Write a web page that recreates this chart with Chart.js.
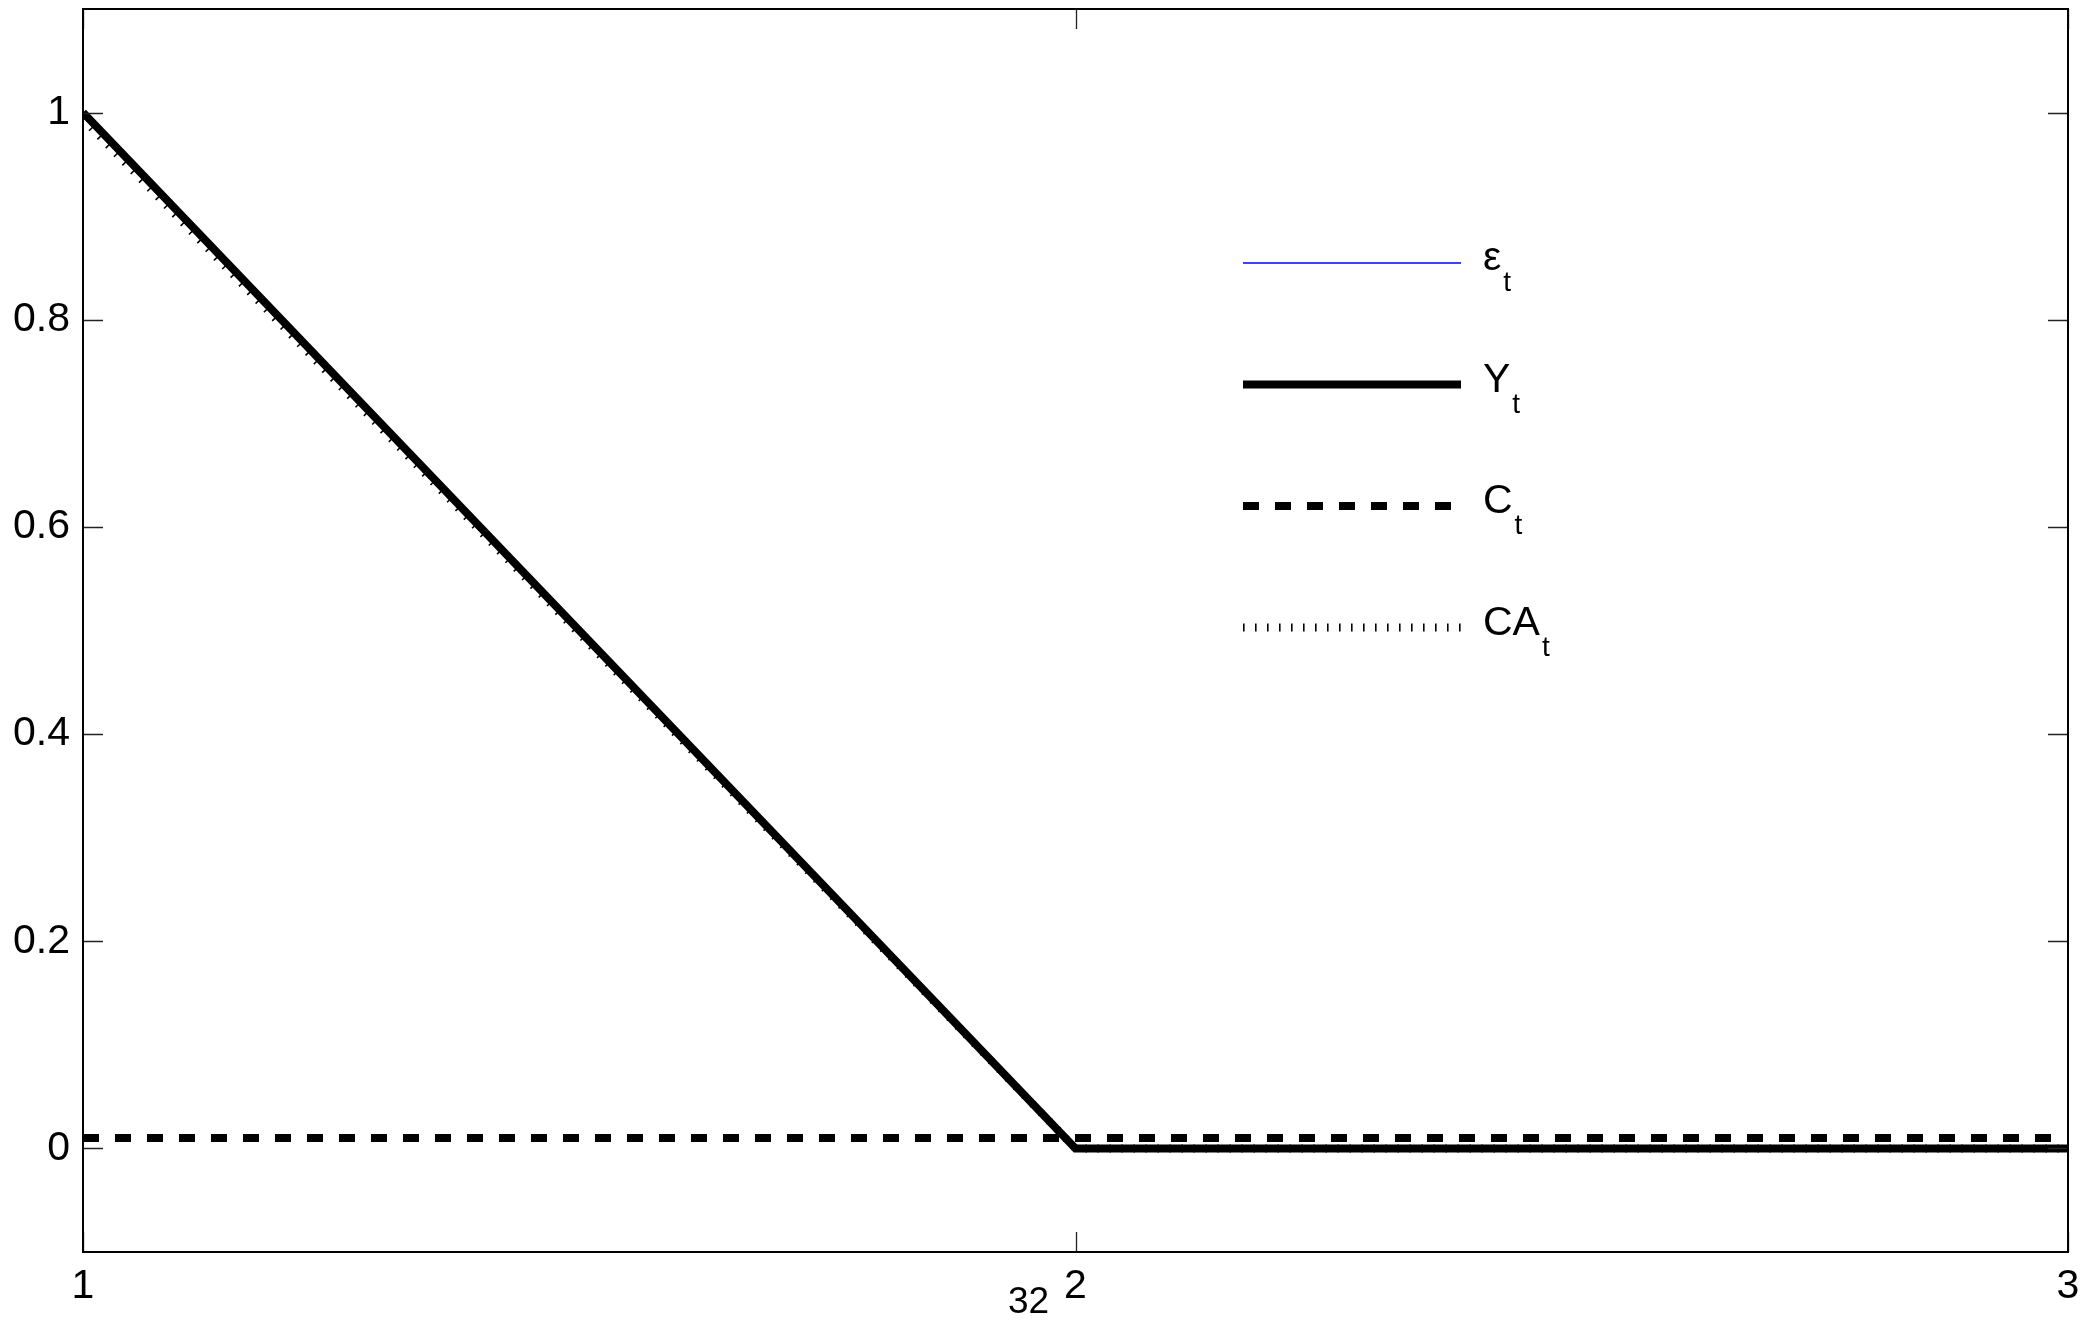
<!DOCTYPE html>
<html>
<head>
<meta charset="utf-8">
<script src="https://cdn.jsdelivr.net/npm/chart.js@4.4.1/dist/chart.umd.min.js"></script>
<style>
  html, body { margin: 0; padding: 0; background: #fff; }
  canvas { display: block; }
</style>
</head>
<body>
<canvas id="c" width="2092" height="1321"></canvas>
<script>
// Impulse responses over the three periods
const periods = [1, 2, 3];
const epsilonT = [1, 0, 0];
const outputY = [1, 0, 0];
const consumptionC = [0.01, 0.01, 0.01];
const currentAccountCA = [0.994, 0, 0];

// Legend names (each carries a subscript t)
const seriesNames = ['ε', 'Y', 'C', 'CA'];
const seriesSub = 't';

// Axis ticks
const xTicks = [1, 2, 3];
const yTicks = [0, 0.2, 0.4, 0.6, 0.8, 1];
const xNote = '32';

const FONT = '"Liberation Sans", Arial, Helvetica, sans-serif';
Chart.defaults.font.family = FONT;
Chart.defaults.color = '#000';

const pts = vals => periods.map((t, i) => ({ x: t, y: vals[i] }));

// Box frame, inward tick marks on all four sides, the extra axis note and the legend
const framePlugin = {
  id: 'frameTicks',
  afterDraw(chart) {
    const { ctx, chartArea: a, scales } = chart;
    const xs = scales.x, ys = scales.y;
    ctx.save();
    // inward ticks
    ctx.strokeStyle = '#222';
    ctx.lineWidth = 1.3;
    const tl = 20;
    yTicks.forEach(v => {
      const y = Math.round(ys.getPixelForValue(v)) + 0.5;
      ctx.beginPath();
      ctx.moveTo(a.left, y); ctx.lineTo(a.left + tl, y);
      ctx.moveTo(a.right, y); ctx.lineTo(a.right - tl, y);
      ctx.stroke();
    });
    xTicks.forEach(v => {
      const x = Math.round(xs.getPixelForValue(v)) + 0.5;
      ctx.beginPath();
      ctx.moveTo(x, a.bottom); ctx.lineTo(x, a.bottom - tl);
      ctx.moveTo(x, a.top); ctx.lineTo(x, a.top + tl);
      ctx.stroke();
    });
    // frame
    ctx.strokeStyle = '#000';
    ctx.lineWidth = 2;
    ctx.strokeRect(a.left, a.top, a.right - a.left, a.bottom - a.top);

    // note beside the middle x tick
    ctx.fillStyle = '#000';
    ctx.font = '37px ' + FONT;
    ctx.textAlign = 'center';
    ctx.textBaseline = 'alphabetic';
    ctx.fillText(xNote, xs.getPixelForValue(2) - 47, a.bottom + 61);

    // legend
    const lx1 = 1243, lx2 = 1461, ly0 = 263, step = 121.5;
    chart.data.datasets.forEach((ds, i) => {
      const y = ly0 + i * step;
      ctx.save();
      ctx.strokeStyle = ds.borderColor;
      ctx.lineWidth = ds.borderWidth;
      ctx.setLineDash(ds.borderDash || []);
      ctx.lineCap = 'butt';
      ctx.beginPath();
      ctx.moveTo(lx1, y); ctx.lineTo(lx2, y);
      ctx.stroke();
      ctx.restore();

      ctx.fillStyle = '#000';
      ctx.textAlign = 'left';
      ctx.textBaseline = 'alphabetic';
      ctx.font = '41px ' + FONT;
      const name = seriesNames[i];
      ctx.fillText(name, 1483, y + 7);
      const w = ctx.measureText(name).width;
      ctx.font = '28px ' + FONT;
      ctx.fillText(seriesSub, 1483 + w + 2, y + 28);
    });
    ctx.restore();
  }
};

new Chart(document.getElementById('c'), {
  type: 'line',
  data: {
    datasets: [
      { label: 'ε_t', data: pts(epsilonT), borderColor: '#0000ff', borderWidth: 1.3, order: 3 },
      { label: 'Y_t', data: pts(outputY), borderColor: '#000', borderWidth: 8, order: 0 },
      { label: 'C_t', data: pts(consumptionC), borderColor: '#000', borderWidth: 8, borderDash: [16, 16], order: 1 },
      { label: 'CA_t', data: pts(currentAccountCA), borderColor: '#000', borderWidth: 8, borderDash: [1.6, 10.4], order: 2 }
    ].map(d => Object.assign({ pointRadius: 0, tension: 0, fill: false, borderCapStyle: 'butt', borderJoinStyle: 'miter' }, d))
  },
  options: {
    responsive: false,
    devicePixelRatio: 1,
    animation: false,
    events: [],
    layout: { padding: { top: 9, right: 24, left: 0, bottom: 0 } },
    plugins: { legend: { display: false }, tooltip: { enabled: false }, title: { display: false } },
    scales: {
      x: {
        type: 'linear', min: 1, max: 3,
        grid: { display: false, drawTicks: false },
        border: { display: false },
        afterBuildTicks: s => { s.ticks = xTicks.map(v => ({ value: v })); },
        afterFit: s => { s.height = 69; s.paddingLeft = 0; s.paddingRight = 0; },
        ticks: { font: { size: 41 }, padding: 10, maxRotation: 0, autoSkip: false, callback: v => String(v) }
      },
      y: {
        type: 'linear', min: -0.1, max: 1.1,
        grid: { display: false, drawTicks: false },
        border: { display: false },
        afterBuildTicks: s => { s.ticks = yTicks.map(v => ({ value: v })); },
        afterFit: s => { s.width = 83; s.paddingTop = 0; s.paddingBottom = 0; },
        ticks: { font: { size: 41 }, padding: 13, autoSkip: false, callback: v => String(+v.toFixed(1)) }
      }
    }
  },
  plugins: [framePlugin]
});
</script>
</body>
</html>
